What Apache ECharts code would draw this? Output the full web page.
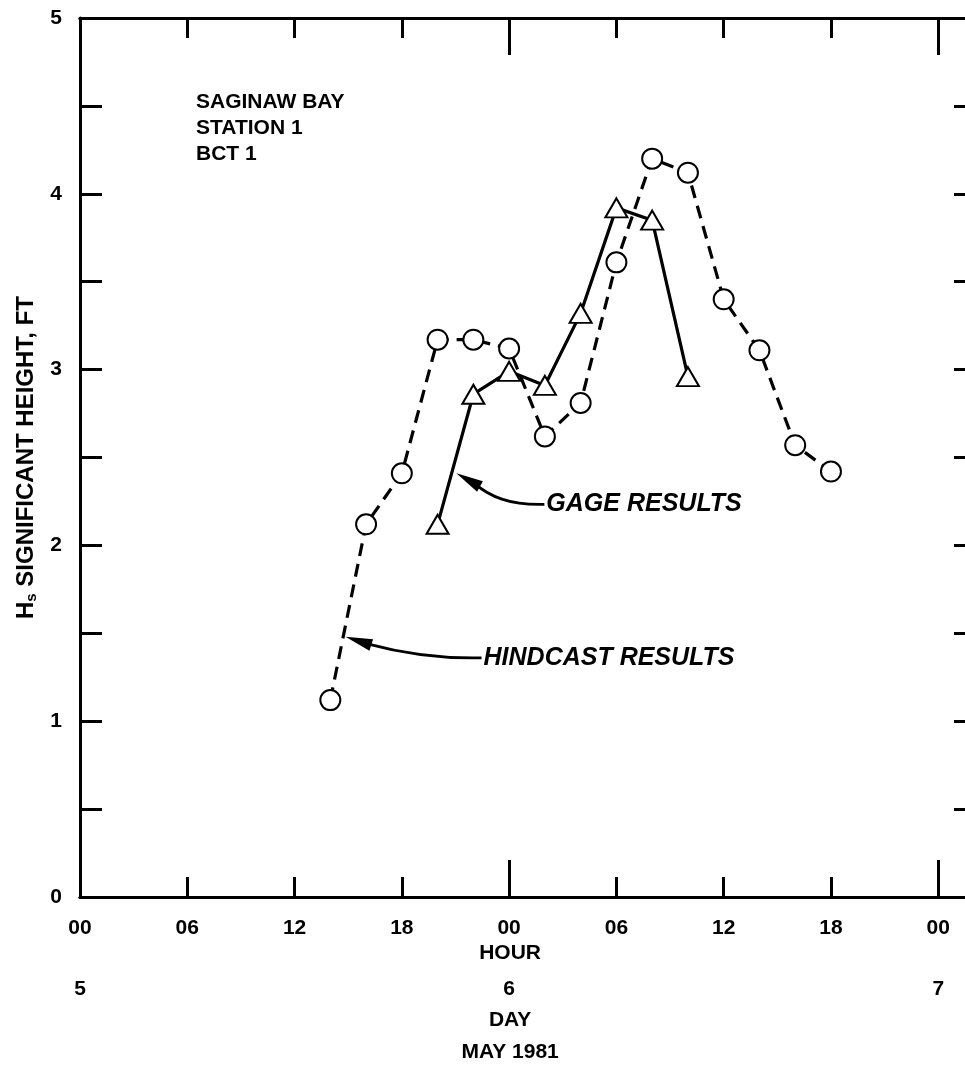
<!DOCTYPE html>
<html>
<head>
<meta charset="utf-8">
<script src="https://cdn.jsdelivr.net/npm/echarts@6/dist/echarts.min.js"></script>
<style>
  html, body { margin: 0; padding: 0; background: #fff; }
  #chart { width: 965px; height: 1065px; }
</style>
</head>
<body>
<div id="chart"></div>
<script>
// Tick labels
const hourTickLabels = ['00', '06', '12', '18', '00', '06', '12', '18', '00'];
const dayTickLabels = ['5', '6', '7'];
const heightTickLabels = ['0', '1', '2', '3', '4', '5'];

// Hours counted from 00 on 5 May 1981
const hindcastHour = [14, 16, 18, 20, 22, 24, 26, 28, 30, 32, 34, 36, 38, 40, 42];
const hindcastHs   = [1.12, 2.12, 2.41, 3.17, 3.17, 3.12, 2.62, 2.81, 3.61, 4.20, 4.12, 3.40, 3.11, 2.57, 2.42];

const gageHour = [20, 22, 24, 26, 28, 30, 32, 34];
const gageHs   = [2.12, 2.86, 2.99, 2.91, 3.32, 3.92, 3.85, 2.96];

const FONT = '"Liberation Sans", Arial, Helvetica, sans-serif';
const INK = '#000';

const chart = echarts.init(document.getElementById('chart'), null, { renderer: 'canvas' });

const line = { show: true, onZero: false, lineStyle: { color: INK, width: 3 } };
const labelFont = { color: INK, fontFamily: FONT, fontWeight: 'bold', fontSize: 21 };

function hourAxis(position, interval, tickLen, withLabels) {
  return {
    type: 'value', position: position, min: 0, max: 50, interval: interval,
    axisLine: line,
    axisTick: { show: true, inside: true, length: tickLen, lineStyle: { color: INK, width: 3 } },
    axisLabel: withLabels ? Object.assign({
      show: true, margin: 21,
      formatter: v => (v % 6 === 0 && v <= 48) ? hourTickLabels[v / 6] : ''
    }, labelFont) : { show: false },
    splitLine: { show: false }
  };
}

const xAxes = [
  hourAxis('bottom', 6, 20, true),
  hourAxis('bottom', 24, 37, false),
  hourAxis('top', 6, 20, false),
  hourAxis('top', 24, 37, false),
  {
    type: 'value', position: 'bottom', offset: 70, min: 0, max: 50, interval: 24,
    axisLine: { show: false, onZero: false }, axisTick: { show: false }, splitLine: { show: false },
    axisLabel: Object.assign({
      show: true, margin: 12,
      formatter: v => (v % 24 === 0 && v <= 48) ? dayTickLabels[v / 24] : ''
    }, labelFont)
  }
];

const yAxes = [
  {
    type: 'value', position: 'left', min: 0, max: 5, interval: 0.5,
    axisLine: line,
    axisTick: { show: true, inside: true, length: 22, lineStyle: { color: INK, width: 3 } },
    axisLabel: Object.assign({
      show: true, margin: 18,
      formatter: v => Number.isInteger(v) ? heightTickLabels[v] : ''
    }, labelFont),
    splitLine: { show: false },
    name: '{h|H}{s|s}{h| SIGNIFICANT HEIGHT, FT}',
    nameLocation: 'middle', nameGap: 37, nameRotate: 90,
    nameTextStyle: {
      rich: {
        h: { color: INK, fontFamily: FONT, fontWeight: 'bold', fontSize: 24, lineHeight: 28 },
        s: { color: INK, fontFamily: FONT, fontWeight: 'bold', fontSize: 15, lineHeight: 28, padding: [11, 0, 0, 0] }
      }
    }
  },
  {
    type: 'value', position: 'right', min: 0, max: 5, interval: 0.5,
    axisLine: line,
    axisTick: { show: true, inside: true, length: 20, lineStyle: { color: INK, width: 3 } },
    axisLabel: { show: false },
    splitLine: { show: false }
  }
];

chart.setOption({
  animation: false,
  backgroundColor: '#fff',
  grid: { left: 80, top: 18, width: 894, height: 879, containLabel: false, outerBoundsMode: 'none' },
  xAxis: xAxes,
  yAxis: yAxes,
  series: [
    {
      name: 'HINDCAST RESULTS', type: 'line', xAxisIndex: 0, yAxisIndex: 0,
      data: hindcastHour.map((h, i) => [h, hindcastHs[i]]),
      symbol: 'emptyCircle', symbolSize: 20,
      itemStyle: { color: INK, borderColor: INK, borderWidth: 3.5 },
      lineStyle: { color: INK, width: 3.2, type: [13, 8] },
      z: 3
    },
    {
      name: 'GAGE RESULTS', type: 'line', xAxisIndex: 0, yAxisIndex: 0,
      data: gageHour.map((h, i) => [h, gageHs[i]]),
      symbol: 'emptyTriangle', symbolSize: [22, 19],
      itemStyle: { color: INK, borderColor: INK, borderWidth: 3.5 },
      lineStyle: { color: INK, width: 3.2, type: 'solid' },
      z: 4
    }
  ]
});

// Callouts: tip is anchored in data units; curve points are pixel offsets from the tip
const callouts = [
  { text: 'GAGE RESULTS', tip: [21.05, 2.41],
    curve: [[88, 31], [53, 32], [33, 23], [18, 10]] },
  { text: 'HINDCAST RESULTS', tip: [14.85, 1.48],
    curve: [[136, 21], [90, 22], [55, 16], [22, 7]] }
];

const graphics = [];
callouts.forEach(c => {
  const t = chart.convertToPixel({ xAxisIndex: 0, yAxisIndex: 0 }, c.tip);
  const p = c.curve.map(o => [t[0] + o[0], t[1] + o[1]]);
  graphics.push({
    type: 'bezierCurve', silent: true,
    shape: { x1: p[0][0], y1: p[0][1], cpx1: p[1][0], cpy1: p[1][1], cpx2: p[2][0], cpy2: p[2][1], x2: p[3][0], y2: p[3][1] },
    style: { stroke: INK, lineWidth: 2.8, fill: null }
  });
  // arrow head pointing from the curve end to the tip
  const dx = t[0] - p[3][0], dy = t[1] - p[3][1];
  const len = Math.hypot(dx, dy);
  const ux = dx / len, uy = dy / len;
  const headLen = 27, half = 6;
  const bx = t[0] - ux * headLen, by = t[1] - uy * headLen;
  graphics.push({
    type: 'polygon', silent: true,
    shape: { points: [[t[0], t[1]], [bx - uy * half, by + ux * half], [bx + uy * half, by - ux * half]] },
    style: { fill: INK }
  });
  graphics.push({
    type: 'text', silent: true, x: p[0][0] + 2, y: p[0][1],
    style: { text: c.text, fill: INK, font: 'italic bold 25px ' + FONT, textAlign: 'left', textVerticalAlign: 'middle' }
  });
});

// Axis titles under the middle day tick
const mid = chart.convertToPixel({ xAxisIndex: 0, yAxisIndex: 0 }, [24, 0]);
[['HOUR', 56], ['DAY', 123], ['MAY 1981', 155]].forEach(([txt, dy]) => {
  graphics.push({
    type: 'text', silent: true, x: mid[0] + 1, y: mid[1] + dy,
    style: { text: txt, fill: INK, font: 'bold 21px ' + FONT, textAlign: 'center', textVerticalAlign: 'middle' }
  });
});

graphics.push({
  type: 'text', silent: true, left: 196, top: 89,
  style: {
    text: 'SAGINAW BAY\nSTATION 1\nBCT 1',
    fill: INK, font: 'bold 21px ' + FONT, lineHeight: 26
  }
});

chart.setOption({ graphic: graphics });
</script>
</body>
</html>
